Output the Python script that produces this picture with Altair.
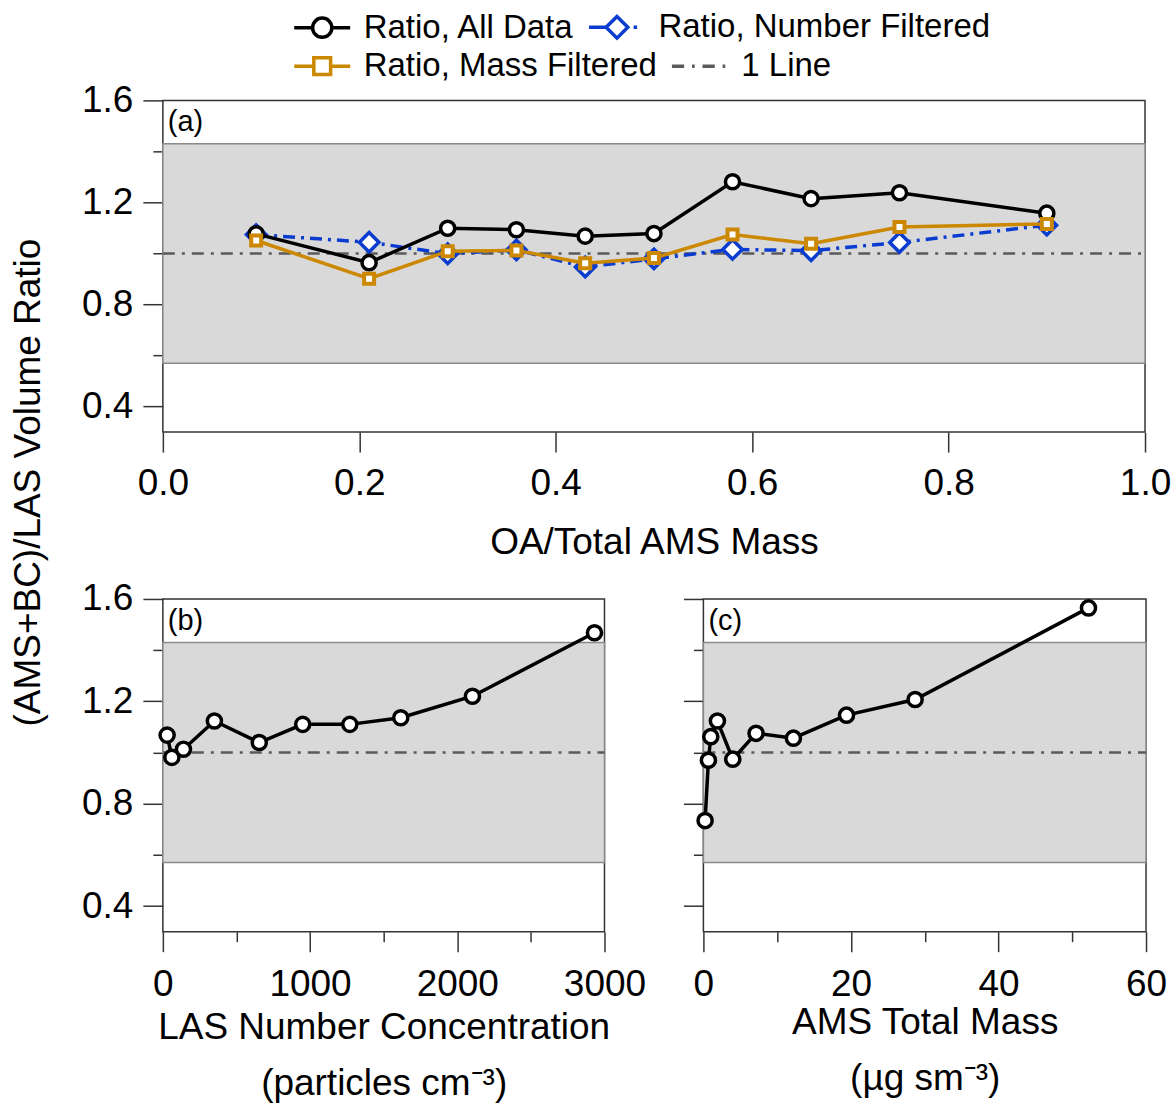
import altair as alt
import pandas as pd

FONT = "Liberation Sans"

# ---------------- data ----------------
# Panel (a): ratio vs OA fraction of total AMS mass
oa_fraction = [0.095, 0.21, 0.29, 0.36, 0.43, 0.50, 0.58, 0.66, 0.75, 0.90]
ratio_all = [1.077, 0.964, 1.099, 1.093, 1.068, 1.078, 1.281, 1.215, 1.238, 1.158]
ratio_number = [1.074, 1.044, 0.999, 1.014, 0.947, 0.979, 1.016, 1.011, 1.043, 1.111]
ratio_mass = [1.051, 0.901, 1.009, 1.012, 0.962, 0.982, 1.074, 1.038, 1.104, 1.116]

# Panel (b): ratio vs LAS number concentration
las_number = [29, 61, 140, 350, 655, 950, 1270, 1616, 2103, 2932]
las_ratio = [1.068, 0.981, 1.013, 1.123, 1.039, 1.110, 1.110, 1.136, 1.220, 1.468]

# Panel (c): ratio vs AMS total mass
ams_mass = [0.23, 0.68, 1.0, 1.9, 3.98, 7.14, 12.2, 19.4, 28.7, 52.2]
ams_ratio = [0.734, 0.970, 1.062, 1.123, 0.974, 1.075, 1.056, 1.146, 1.207, 1.565]

legend_row1 = ["Ratio, All Data", "Ratio, Number Filtered"]
legend_row2 = ["Ratio, Mass Filtered", "1 Line"]
band_limits = [0.57, 1.43]
one_value = 1.0

y_domain = [0.3, 1.6]
y_ticks = [0.4, 0.6, 0.8, 1.0, 1.2, 1.4, 1.6]
a_domain = [0.0, 1.0]
a_ticks = [0.0, 0.2, 0.4, 0.6, 0.8, 1.0]
b_domain = [0, 3000]
b_ticks = [0, 500, 1000, 1500, 2000, 2500, 3000]
c_domain = [0, 60]
c_ticks = [0, 10, 20, 30, 40, 50, 60]

# ---------------- styles ----------------
BLACK = "#000000"
BLUE = "#0a3ccf"
ORANGE = "#cc8800"
GRAY_LINE = "#5a5a5a"
FRAME = "#333333"
DASHDOT = [12, 7, 3, 7]
LW = 3.5
TICK_FS = 37
TITLE_FS = 37

SHAPE_CIRCLE = "M-1.6,0L-0.55,0M0.55,0L1.6,0M-0.55,0A0.55,0.55,0,1,1,0.55,0A0.55,0.55,0,1,1,-0.55,0Z"
SHAPE_DIAMOND = "M-1.6,0L-0.68,0M0.95,0L1.15,0M0,-0.62L0.62,0L0,0.62L-0.62,0Z"
SHAPE_SQUARE = "M-1.6,0L-0.48,0M0.48,0L1.6,0M-0.48,-0.48L0.48,-0.48L0.48,0.48L-0.48,0.48Z"
SHAPE_DASHDOT = "M-1.6,0L-0.9,0M-0.45,0L-0.3,0M0.15,0L0.85,0M1.3,0L1.45,0"
legend_rows = [
    (legend_row1, [BLACK, BLUE], [SHAPE_CIRCLE, SHAPE_DIAMOND], -93),
    (legend_row2, [ORANGE, GRAY_LINE], [SHAPE_SQUARE, SHAPE_DASHDOT], -54),
]


def y_axis(show_labels, title=None):
    major = "round(datum.value*10) % 4 == 0"
    kw = dict(
        values=y_ticks, domain=False, grid=False,
        tickColor=FRAME, tickWidth=1.5,
        tickSize={"condition": {"test": major, "value": 20}, "value": 10},
        labels=show_labels,
        labelExpr=f"{major} ? format(datum.value, '.1f') : ''",
        labelFont=FONT, labelFontSize=TICK_FS, labelColor="black", labelPadding=10,
    )
    if title:
        kw.update(title=title, titleFont=FONT, titleFontSize=TITLE_FS, titleFontWeight="normal",
                  titleColor="black", titleAngle=270, titleX=-134, titleY=382,
                  titleAlign="center", titleBaseline="middle")
    else:
        kw.update(title=None)
    return alt.Axis(**kw)


def x_axis(values, major_test, fmt, title, label_pad, title_pad):
    return alt.Axis(
        values=values, domain=False, grid=False,
        tickColor=FRAME, tickWidth=1.5,
        tickSize={"condition": {"test": major_test, "value": 20}, "value": 10},
        labelExpr=f"{major_test} ? format(datum.value, '{fmt}') : ''",
        labelFont=FONT, labelFontSize=TICK_FS, labelColor="black", labelPadding=label_pad,
        labelFlush=False, labelOverlap=False,
        title=title, titleFont=FONT, titleFontSize=TITLE_FS, titleFontWeight="normal",
        titleColor="black", titlePadding=title_pad, titleLineHeight=56,
    )


def panel(xdomain, xaxis, yaxis, series, letter, width, height, legend=False):
    xs = alt.Scale(domain=xdomain, nice=False, zero=False)
    ys = alt.Scale(domain=y_domain, nice=False, zero=False)

    band_df = pd.DataFrame({"x0": [xdomain[0]], "x1": [xdomain[1]],
                            "lo": [band_limits[0]], "hi": [band_limits[1]]})
    band = alt.Chart(band_df).mark_rect(fill="#d9d9d9", stroke="#8a8a8a", strokeWidth=1.5).encode(
        x=alt.X("x0:Q", scale=xs, axis=xaxis), x2="x1:Q",
        y=alt.Y("lo:Q", scale=ys, axis=yaxis), y2="hi:Q",
    )
    one_df = pd.DataFrame({"x0": [xdomain[0]], "x1": [xdomain[1]], "lo": [one_value]})
    one = alt.Chart(one_df).mark_rule(color=GRAY_LINE, strokeWidth=2.5, strokeDash=DASHDOT).encode(
        x=alt.X("x0:Q", scale=xs, axis=xaxis), x2="x1:Q",
        y=alt.Y("lo:Q", scale=ys, axis=yaxis),
    )
    layers = [band, one]
    for xv, yv, color, dash, shape, size, sw in series:
        df = pd.DataFrame({"x0": xv, "lo": yv})
        enc = dict(x=alt.X("x0:Q", scale=xs, axis=xaxis), y=alt.Y("lo:Q", scale=ys, axis=yaxis))
        lkw = dict(color=color, strokeWidth=LW)
        if dash:
            lkw["strokeDash"] = dash
        layers.append(alt.Chart(df).mark_line(**lkw).encode(**enc))
        layers.append(alt.Chart(df).mark_point(shape=shape, size=size, filled=True, fill="white",
                                               stroke=color, strokeWidth=sw, opacity=1).encode(**enc))
    if legend:
        for i, (names, colors, shapes, ly) in enumerate(legend_rows):
            field = f"entry{i}"
            leg = alt.Legend(
                title=None, orient="none", legendX=140, legendY=ly, direction="horizontal",
                symbolSize=1225, symbolStrokeWidth=LW, symbolFillColor="white",
                labelFont=FONT, labelFontSize=33, labelColor="black", labelOffset=22,
                columnPadding=7, labelLimit=0,
            )
            ldf = pd.DataFrame({field: names})
            layers.append(
                alt.Chart(ldf).transform_filter("false").mark_point(
                    filled=False, strokeWidth=LW, opacity=1).encode(
                    x=alt.value(0), y=alt.value(0),
                    color=alt.Color(f"{field}:N", scale=alt.Scale(domain=names, range=colors), legend=leg),
                    shape=alt.Shape(f"{field}:N", scale=alt.Scale(domain=names, range=shapes), legend=leg),
                )
            )
    lab_df = pd.DataFrame({"t": [letter]})
    layers.append(alt.Chart(lab_df).mark_text(align="left", baseline="middle", font=FONT, fontSize=29,
                                              color="black").encode(
        text="t:N", x=alt.value(5), y=alt.value(22)))
    out = alt.layer(*layers).properties(width=width, height=height)
    if legend:
        out = out.resolve_scale(color="independent", shape="independent")
    return out


panel_a = panel(
    a_domain,
    x_axis(a_ticks, "true", ".1f", "OA/Total AMS Mass", 13, 24),
    y_axis(True, "(AMS+BC)/LAS Volume Ratio"),
    [
        (oa_fraction, ratio_number, BLUE, [12, 6, 3, 6], "diamond", 380, LW),
        (oa_fraction, ratio_all, BLACK, None, "circle", 200, LW),
        (oa_fraction, ratio_mass, ORANGE, None, "square", 100, 4),
    ],
    "(a)", 983, 332, legend=True,
)

panel_b = panel(
    b_domain,
    x_axis(b_ticks, "datum.value % 1000 == 0", "d",
           ["LAS Number Concentration", "(particles cm⁻³)"], 15, 7),
    y_axis(True),
    [(las_number, las_ratio, BLACK, None, "circle", 200, LW)],
    "(b)", 442, 333,
)

panel_c = panel(
    c_domain,
    x_axis(c_ticks, "datum.value % 20 == 0", "d",
           ["AMS Total Mass", "(µg sm⁻³)"], 15, 2),
    y_axis(False),
    [(ams_mass, ams_ratio, BLACK, None, "circle", 200, LW)],
    "(c)", 443, 333,
)

bottom = alt.hconcat(panel_b, panel_c, spacing=99, bounds="flush").resolve_scale(
    x="independent", y="independent")

chart = alt.vconcat(panel_a, bottom, spacing=167, bounds="flush").resolve_scale(
    x="independent", y="independent").configure_view(
    stroke=FRAME, strokeWidth=1.5
).properties(
    padding={"left": 9, "top": 6, "right": 1, "bottom": 0},
    background="white",
)

chart.save("out.html", embed_options={"renderer": "svg", "actions": False})
